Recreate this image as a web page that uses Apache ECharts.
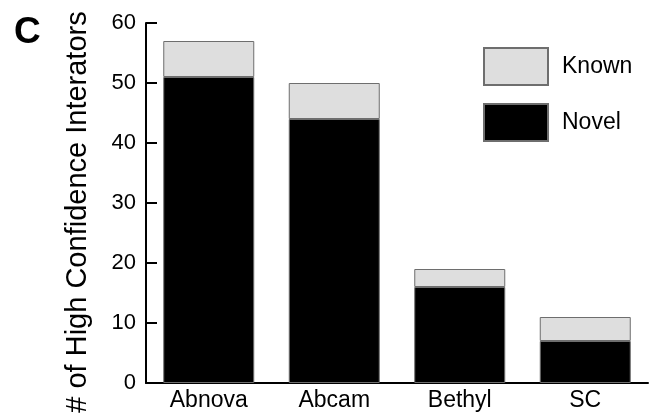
<!DOCTYPE html>
<html>
<head>
<meta charset="utf-8">
<script src="https://cdn.jsdelivr.net/npm/echarts@6/dist/echarts.min.js"></script>
<style>html,body{margin:0;padding:0;background:#fff}#c{width:650px;height:417px}</style>
</head>
<body>
<div id="c"></div>
<script>
var categories = ['Abnova', 'Abcam', 'Bethyl', 'SC'];
var novel = [51, 44, 16, 7];
var known = [6, 6, 3, 4];
var yTicks = [0, 10, 20, 30, 40, 50, 60];

var FONT = 'Liberation Sans, Arial, Helvetica, sans-serif';
var chart = echarts.init(document.getElementById('c'));
chart.setOption({
  animation: false,
  backgroundColor: '#ffffff',
  title: {
    text: 'C', left: 9, top: 9,
    textStyle: { fontFamily: FONT, fontSize: 37, fontWeight: 'bold', color: '#000' }
  },
  graphic: [{
    type: 'text', x: 78, y: 212, rotation: Math.PI / 2,
    style: { text: '# of High Confidence Interators', font: '29px ' + FONT, fill: '#000', align: 'center', verticalAlign: 'middle' }
  }],
  legend: {
    orient: 'vertical', left: 478, top: 42, itemWidth: 64, itemHeight: 37, itemGap: 17,
    icon: 'rect',
    data: ['Known', 'Novel'],
    textStyle: { fontFamily: FONT, fontSize: 23, color: '#000', padding: [0, 0, 0, 9] }
  },
  grid: { left: 146, right: 2, top: 23, bottom: 34 },
  xAxis: {
    type: 'category', data: categories,
    axisLine: { lineStyle: { color: '#000', width: 2 } },
    axisTick: { inside: true, length: 8, lineStyle: { color: '#000', width: 2 } },
    axisLabel: { fontFamily: FONT, fontSize: 23, color: '#000', margin: 6 }
  },
  yAxis: {
    type: 'value', min: yTicks[0], max: yTicks[yTicks.length - 1], interval: 10,
    splitLine: { show: false },
    axisLine: { show: true, lineStyle: { color: '#000', width: 2 } },
    axisTick: { show: true, inside: true, length: 11, lineStyle: { color: '#000', width: 2 } },
    axisLabel: { fontFamily: FONT, fontSize: 22, color: '#000', margin: 10 }
  },
  series: [
    { name: 'Novel', type: 'bar', stack: 's', data: novel, barWidth: 91,
      itemStyle: { color: '#000000', borderColor: '#6e6e6e', borderWidth: 1 } },
    { name: 'Known', type: 'bar', stack: 's', data: known, barWidth: 91,
      itemStyle: { color: '#dedede', borderColor: '#6e6e6e', borderWidth: 1 } }
  ]
});
</script>
</body>
</html>
